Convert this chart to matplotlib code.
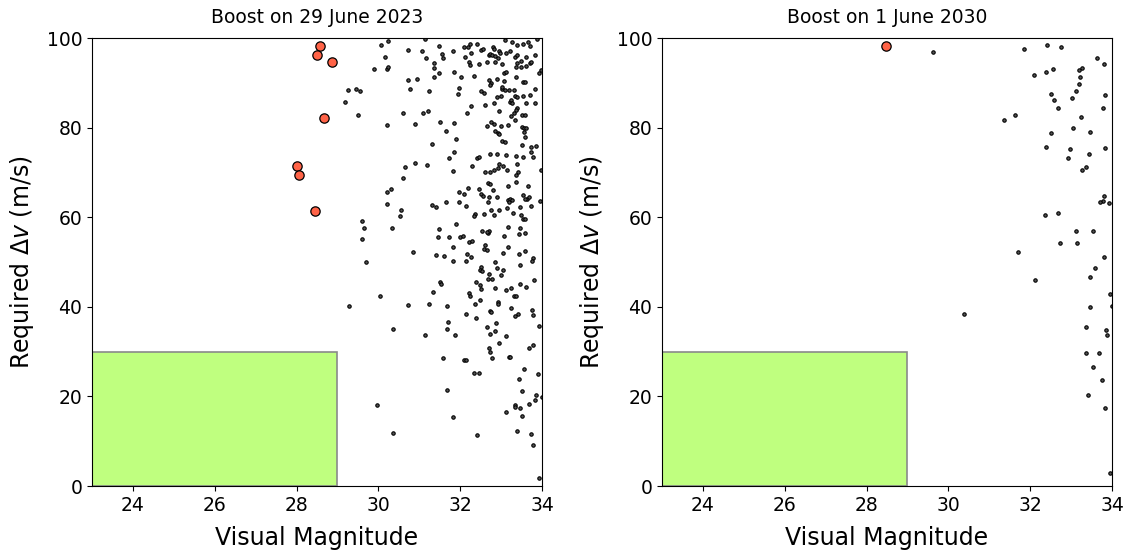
import matplotlib
matplotlib.use("Agg")
import matplotlib.pyplot as plt
from matplotlib.patches import Rectangle

# ---------------- data ----------------
titles = ["Boost on 29 June 2023", "Boost on 1 June 2030"]

# Objects reachable by the mission (highlighted)
hit_2023_mag = [28.57, 28.50, 28.87, 28.67, 28.01, 28.06, 28.45]
hit_2023_dv = [98.2, 96.2, 94.6, 82.1, 71.4, 69.4, 61.4]

hit_2030_mag = [28.48]
hit_2030_dv = [98.2]

# All other objects, 2023 boost
obj_2023_mag = [
    30.07, 30.23, 30.72, 30.17, 29.89, 30.21, 30.23, 30.73, 30.78, 29.25,
    29.46, 29.55, 29.19, 29.50, 30.60, 30.20, 30.64, 30.61,
    30.32, 30.20, 30.21, 30.56, 30.54, 29.59, 29.66, 30.34, 29.61, 29.70,
    30.04, 29.27, 30.72, 30.35, 29.96, 30.35,
    31.14, 31.48, 32.09, 32.20, 32.25, 32.40, 32.52, 32.56, 32.79, 32.83,
    32.95, 33.10, 33.22, 33.27, 33.40, 33.53, 33.66, 33.71, 33.87, 31.07,
    31.17, 31.55, 31.57, 31.82, 32.12, 32.26, 32.71, 32.74, 32.77, 32.86,
    32.92, 32.98, 33.13, 33.33, 33.38, 33.48, 33.62, 33.71, 33.84, 31.36,
    31.36, 31.35, 31.48, 31.86, 32.21, 32.23, 32.46, 32.65, 32.85, 33.02,
    33.08, 33.12, 33.40, 33.37, 33.49, 33.62, 33.72, 30.95, 32.03, 32.34,
    32.70, 32.75, 32.72, 32.91, 33.06, 33.37, 33.53, 33.58, 33.92, 31.24,
    31.97, 31.95, 32.50, 32.58, 33.02, 33.01, 33.09, 32.99, 32.89, 33.20,
    33.31, 33.33, 33.40, 33.53, 33.70, 33.84, 32.26, 32.60, 32.83, 33.22,
    33.23, 33.27, 33.40, 33.37, 33.32, 33.25, 33.62, 33.84, 31.09, 31.21,
    32.17, 32.96, 33.35, 33.51, 33.59, 30.90, 31.51, 31.86, 31.66, 32.65,
    32.75, 32.82, 32.99, 32.86, 32.92, 32.94, 33.16, 33.52, 33.56, 33.62,
    33.55, 33.58, 31.31, 31.90, 33.03, 33.09, 33.51, 33.74, 33.86, 33.72,
    33.78, 31.86, 31.73, 32.40, 32.45, 32.74, 32.89, 33.11, 33.36, 33.53,
    30.89, 31.18, 31.82, 32.28, 32.61, 32.73, 32.82, 32.92, 32.95, 33.05,
    33.15, 33.40, 33.41, 33.36, 33.98, 33.98,
    33.37, 32.19, 32.47, 31.98, 32.09, 32.52, 32.56, 32.70, 32.90, 32.67,
    32.81, 32.68, 32.72, 33.16, 33.65, 31.30, 31.40, 31.66, 31.98, 32.15,
    32.35, 32.33, 32.58, 32.75, 32.82, 32.94, 33.15, 33.18, 33.22, 33.20,
    33.26, 33.28, 33.47, 33.53, 33.63, 33.58, 33.69, 33.73, 33.94, 33.48,
    33.53, 33.59, 31.90, 31.48, 31.46, 31.73, 32.00, 32.06, 32.21, 32.29,
    32.53, 32.67, 32.71, 32.65, 33.07, 33.18, 33.46, 33.43, 33.58, 30.85,
    31.82, 31.42, 31.60, 32.17, 32.26, 32.13, 31.82, 32.60, 32.59, 32.66,
    32.85, 33.04, 33.18, 33.43, 33.58, 33.78, 33.76, 32.52, 32.49, 32.54,
    32.90, 33.05, 32.71, 33.00, 32.67, 32.78, 33.45, 33.81, 31.51, 31.54,
    31.34, 32.39, 32.49, 32.50, 32.85, 33.12, 33.23, 33.46, 33.62, 33.32,
    33.37, 31.24, 32.21, 32.25, 32.49, 32.36, 31.68, 32.92, 32.92, 33.24,
    32.74, 32.76, 33.42, 33.35, 33.76, 33.78, 32.14, 32.38, 31.70, 31.68,
    32.65, 32.87, 33.92,
    32.85, 31.15, 31.87, 32.73, 33.12, 32.96, 32.70, 32.74, 32.78, 33.20,
    33.22, 33.69, 33.79, 31.58, 32.10, 32.13, 32.33, 32.45, 33.57, 33.91,
    33.43, 31.68, 33.51, 33.86, 33.83, 33.99, 33.11, 33.34, 33.35, 33.45,
    33.67, 33.52, 31.82, 33.39, 33.74, 32.40, 33.79, 33.93,
]
obj_2023_dv = [
    98.5, 99.3, 97.3, 95.8, 93.1, 93.0, 93.5, 90.6, 88.7, 88.3,
    88.7, 88.2, 85.7, 82.8, 83.2, 80.5, 71.1, 68.8,
    66.3, 65.7, 62.9, 61.7, 60.3, 59.1, 57.7, 57.7, 55.2, 50.0,
    42.3, 40.1, 40.4, 35.1, 18.1, 11.9,
    99.7, 98.2, 97.9, 97.9, 98.6, 98.6, 97.3, 97.6, 98.1, 97.5,
    97.1, 99.6, 97.2, 99.1, 98.4, 98.7, 99.0, 98.2, 99.7, 97.1,
    95.6, 96.4, 95.5, 97.2, 95.7, 96.7, 96.2, 96.4, 96.1, 96.0,
    95.6, 96.7, 96.7, 95.8, 96.3, 94.9, 95.8, 94.5, 96.1, 94.5,
    93.2, 91.4, 92.1, 92.5, 94.6, 93.9, 94.1, 94.7, 94.7, 94.1,
    92.1, 92.5, 94.5, 93.5, 93.5, 93.8, 94.6, 90.9, 91.4, 91.5,
    90.6, 90.0, 89.5, 90.8, 90.5, 91.2, 90.1, 90.1, 92.1, 88.2,
    88.8, 87.4, 88.1, 87.7, 88.6, 89.0, 88.3, 87.1, 86.9, 88.3,
    88.3, 87.0, 86.8, 87.0, 87.3, 88.6, 84.8, 85.1, 85.6, 85.8,
    86.1, 85.4, 84.4, 84.0, 83.2, 82.6, 85.4, 85.4, 83.2, 83.6,
    83.2, 83.8, 81.8, 82.8, 82.8, 80.7, 81.3, 81.1, 79.3, 80.4,
    81.2, 80.7, 80.3, 79.3, 78.8, 78.5, 80.5, 80.2, 79.9, 80.0,
    79.0, 78.0, 76.4, 77.5, 77.0, 76.7, 76.2, 75.6, 75.8, 74.5,
    73.5, 74.5, 73.3, 73.3, 73.5, 74.0, 74.0, 73.9, 73.7, 73.4,
    72.1, 71.6, 70.4, 71.5, 70.2, 70.0, 70.6, 70.9, 71.8, 71.4,
    70.6, 71.9, 70.2, 69.4, 70.6, 92.9,
    67.9, 66.6, 66.3, 65.6, 65.1, 65.1, 64.7, 64.5, 64.5, 63.5,
    66.0, 67.7, 67.3, 66.9, 66.9, 62.7, 62.2, 63.3, 63.4, 62.5,
    60.8, 60.2, 60.8, 61.6, 60.6, 61.7, 62.1, 63.8, 64.0, 63.4,
    63.9, 61.0, 62.3, 64.9, 64.0, 64.1, 64.6, 62.5, 63.7, 60.6,
    59.5, 59.5, 58.5, 57.3, 55.6, 55.5, 55.6, 55.7, 54.4, 54.7,
    56.9, 56.5, 57.0, 56.7, 55.8, 57.8, 57.7, 56.3, 56.4, 52.3,
    53.3, 51.6, 51.4, 51.8, 51.2, 50.3, 50.2, 53.8, 52.8, 52.6,
    50.0, 52.0, 53.3, 51.8, 52.4, 50.9, 50.3, 48.8, 48.2, 48.0,
    48.6, 48.3, 47.4, 47.2, 46.3, 46.2, 49.3, 46.0, 45.5, 45.1,
    43.4, 45.5, 44.8, 44.0, 44.2, 43.8, 44.3, 45.0, 44.5, 42.4,
    42.4, 40.7, 43.0, 42.4, 41.6, 40.6, 40.1, 41.0, 40.7, 39.7,
    39.0, 38.8, 38.4, 37.9, 39.2, 38.1, 38.4, 37.5, 36.6, 35.0,
    35.4, 36.4, 35.8,
    34.6, 33.6, 33.8, 34.0, 33.5, 32.0, 30.8, 29.9, 28.5, 28.7,
    28.8, 30.8, 31.4, 28.5, 28.1, 28.1, 25.2, 25.2, 26.1, 24.9,
    23.9, 21.4, 21.2, 20.3, 19.2, 19.8, 16.5, 18.1, 17.7, 17.5,
    18.2, 15.6, 15.3, 12.2, 11.5, 11.3, 9.1, 1.7,
]

# All other objects, 2030 boost
obj_2030_mag = [
    29.62, 30.38,
    31.84, 32.42, 32.75, 33.63, 33.81, 32.09, 32.39, 32.55, 33.26, 33.20,
    33.22, 33.20, 33.13, 32.52, 32.58, 33.03, 33.83, 32.68, 33.79, 31.62,
    31.35, 33.24, 32.51, 33.05, 33.47, 32.39, 32.98, 33.82, 32.93, 33.43,
    33.36, 33.26, 33.80, 33.77, 33.70, 33.93, 32.36, 32.68, 33.13, 33.53,
    32.72, 33.14, 31.71, 33.80,
    33.59, 33.46, 32.12, 33.94, 33.47, 33.36, 33.85, 33.88, 33.36, 33.69,
    33.54, 33.76, 33.41, 33.82, 33.95, 33.99,
]
obj_2030_dv = [
    96.9, 38.5,
    97.6, 98.4, 98.0, 95.6, 94.1, 91.8, 92.4, 93.1, 93.3, 92.8,
    91.2, 89.7, 88.2, 87.4, 86.1, 86.5, 87.3, 84.4, 84.3, 82.9,
    81.6, 82.4, 78.9, 79.8, 79.0, 75.7, 75.2, 75.5, 73.2, 74.0,
    71.1, 70.5, 64.8, 63.6, 63.3, 63.1, 60.5, 61.0, 56.9, 56.9,
    54.3, 54.3, 52.3, 51.1,
    48.7, 46.7, 46.0, 42.9, 39.9, 35.6, 34.9, 33.7, 29.7, 29.7,
    26.6, 23.7, 20.4, 17.5, 3.0, 40.2,
]

# Target region: bright enough and cheap enough
target_mag = (23, 29)
target_dv = (0, 30)

panels = [
    (obj_2023_mag, obj_2023_dv, hit_2023_mag, hit_2023_dv),
    (obj_2030_mag, obj_2030_dv, hit_2030_mag, hit_2030_dv),
]

# ---------------- figure ----------------
fig = plt.figure(figsize=(11.27, 5.5), dpi=100)
ax_boxes = [
    [92 / 1127, 64 / 550, 450 / 1127, 448 / 550],
    [662 / 1127, 64 / 550, 450 / 1127, 448 / 550],
]

for box, title, (mag, dv, hmag, hdv) in zip(ax_boxes, titles, panels):
    ax = fig.add_axes(box)
    ax.add_patch(Rectangle((target_mag[0], target_dv[0]),
                           target_mag[1] - target_mag[0],
                           target_dv[1] - target_dv[0],
                           facecolor="#bfff7f", edgecolor="#8a8a8a",
                           linewidth=1.2, zorder=1))
    ax.scatter(mag, dv, s=6, c="#555555", edgecolors="black",
               linewidths=0.8, zorder=2)
    ax.scatter(hmag, hdv, s=45, c="tomato", edgecolors="black",
               linewidths=0.9, zorder=3)
    ax.set_xlim(23, 34)
    ax.set_ylim(0, 100)
    ax.set_xticks([24, 26, 28, 30, 32, 34])
    ax.set_yticks([0, 20, 40, 60, 80, 100])
    ax.tick_params(labelsize=13.5)
    ax.set_xlabel("Visual Magnitude", fontsize=17, labelpad=8)
    ax.set_ylabel(r"Required $\Delta v$ (m/s)", fontsize=17, labelpad=8)
    ax.set_title(title, fontsize=13.5, pad=11)

fig.savefig("out.png", dpi=100)
